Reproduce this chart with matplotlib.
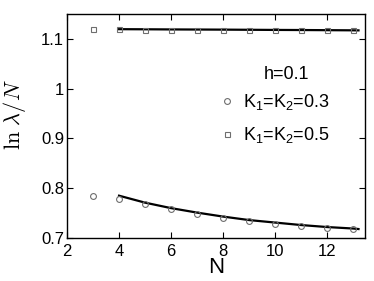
import matplotlib
matplotlib.use("Agg")
import matplotlib.pyplot as plt

plt.rcParams['font.family'] = ['Liberation Sans', 'DejaVu Sans']
plt.rcParams['mathtext.fontset'] = 'custom'
plt.rcParams['mathtext.rm'] = 'Liberation Sans'
plt.rcParams['mathtext.it'] = 'Liberation Sans:italic'

# data
n_pts = [3, 4, 5, 6, 7, 8, 9, 10, 11, 12, 13]
k03 = [0.784, 0.779, 0.769, 0.758, 0.749, 0.740, 0.734, 0.729, 0.724, 0.721, 0.718]
k05 = [1.1205, 1.119, 1.1188, 1.1186, 1.1184, 1.1182, 1.118, 1.1178, 1.1175, 1.1172, 1.117]

n_fit = [4, 5, 6, 7, 8, 9, 10, 11, 12, 13, 13.2]
fit03 = [0.785, 0.771, 0.760, 0.751, 0.743, 0.736, 0.731, 0.726, 0.722, 0.719, 0.718]
fit05 = [1.1195, 1.1193, 1.119, 1.1188, 1.1186, 1.1183, 1.118, 1.1178, 1.1175, 1.1172, 1.1171]

fig = plt.figure(figsize=(3.74, 2.81), dpi=100)
ax = fig.add_axes([67 / 374, 1 - 238 / 281, (365 - 67) / 374, (238 - 14) / 281])

ax.plot(n_fit, fit03, color='black', lw=1.6, zorder=2)
ax.plot(n_fit, fit05, color='black', lw=1.6, zorder=2)
ax.plot(n_pts, k03, 'o', mfc='none', mec='#6e6e6e', ms=4.2, mew=0.8,
        label=r'K$_1$=K$_2$=0.3', zorder=3)
ax.plot(n_pts, k05, 's', mfc='none', mec='#6e6e6e', ms=3.6, mew=0.8,
        label=r'K$_1$=K$_2$=0.5', zorder=3)

ax.set_xlim(2, 13.45)
ax.set_ylim(0.7, 1.15)
ax.set_xticks([2, 4, 6, 8, 10, 12])
ax.set_yticks([0.7, 0.8, 0.9, 1.0, 1.1])
ax.set_yticklabels(['0.7', '0.8', '0.9', '1', '1.1'])
ax.tick_params(direction='in', top=True, right=True, labelsize=12, length=4, width=0.8)
ax.tick_params(axis='x', pad=4)
ax.tick_params(axis='y', pad=2)
for s in ax.spines.values():
    s.set_linewidth(1.0)

ax.set_xlabel('N', fontsize=16, labelpad=-1)
ax.set_ylabel(r'$\ln\,\lambda/N$', fontsize=16, math_fontfamily='cm')
ax.yaxis.set_label_coords(-0.13, 0.55)

ax.text(0.737, 0.732, 'h=0.1', transform=ax.transAxes, fontsize=13,
        ha='center', va='center')
ax.legend(loc='center left', bbox_to_anchor=(0.513, 0.533), frameon=False,
          fontsize=13, handlelength=0.8, handletextpad=0.49, labelspacing=0.7,
          borderpad=0, borderaxespad=0)

fig.savefig('out.png', dpi=100)
